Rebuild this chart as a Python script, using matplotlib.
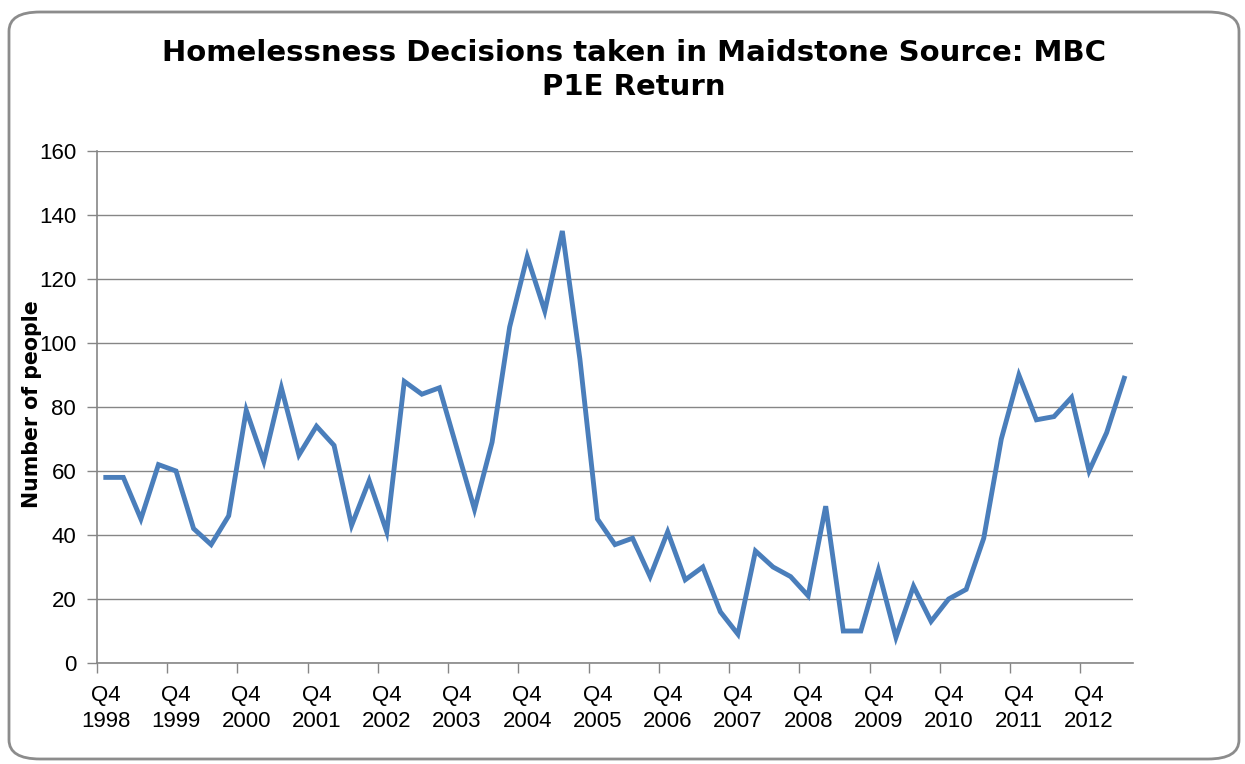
import matplotlib
matplotlib.use("Agg")
import matplotlib.pyplot as plt
from matplotlib.patches import FancyBboxPatch

title = "Homelessness Decisions taken in Maidstone Source: MBC\nP1E Return"
ylabel = "Number of people"
years = [str(y) for y in range(1998, 2013)]
tick_labels = ["Q4\n" + y for y in years]
values = [58, 58, 45, 62, 60, 42, 37, 46, 79, 63, 86, 65, 74, 68, 43, 57, 41, 88,
          84, 86, 67, 48, 69, 105, 127, 110, 135, 95, 45, 37, 39, 27, 41, 26, 30,
          16, 9, 35, 30, 27, 21, 49, 10, 10, 29, 8, 24, 13, 20, 23, 39, 70, 90,
          76, 77, 83, 60, 72, 89]
yticks = [0, 20, 40, 60, 80, 100, 120, 140, 160]

W, H = 1245, 764
fig = plt.figure(figsize=(W / 100, H / 100), dpi=100)
fig.patch.set_facecolor("white")

# rounded border
border = FancyBboxPatch((9 / W, 5 / H), (1239 - 9) / W, (752 - 5) / H,
                        boxstyle="round,pad=0,rounding_size=0.025",
                        transform=fig.transFigure, fill=False,
                        edgecolor="#8c8c8c", linewidth=2.0)
fig.patches.append(border)

ax = fig.add_axes([97 / W, (H - 663) / H, (1133 - 97) / W, (663 - 151) / H])
n = len(values)
x = list(range(n))
ax.plot(x, values, color="#4A7EBB", linewidth=3.5, solid_joinstyle="miter")

ax.set_xlim(-0.5, n - 0.5)
ax.set_ylim(0, 160)
ax.set_yticks(yticks)
ax.set_yticklabels([str(v) for v in yticks], fontsize=16, family="Liberation Sans")
ax.yaxis.grid(True, color="#868686", linewidth=1.0)
ax.set_axisbelow(True)

ax.set_xticks(list(range(0, n, 4)))
ax.set_xticklabels(tick_labels, fontsize=16, family="Liberation Sans", linespacing=1.3)
ax.set_xticks([i - 0.5 for i in range(0, n, 4)], minor=True)
ax.tick_params(axis="x", which="major", length=0, pad=16, colors="black")
ax.tick_params(axis="x", which="minor", length=7, width=1, color="#868686")
ax.tick_params(axis="y", length=7, width=1, color="#868686", pad=8)

for s in ["top", "right"]:
    ax.spines[s].set_visible(False)
for s in ["left", "bottom"]:
    ax.spines[s].set_color("#868686")
    ax.spines[s].set_linewidth(1.2)

fig.text(634 / W, 1 - 70 / H, title, ha="center", va="center", fontsize=21,
         fontweight="bold", family="DejaVu Sans", linespacing=1.25)
fig.text(32 / W, 1 - 404 / H, ylabel, ha="center", va="center", rotation=90,
         fontsize=14.8, fontweight="bold", family="DejaVu Sans")

fig.savefig("out.png", dpi=100)
